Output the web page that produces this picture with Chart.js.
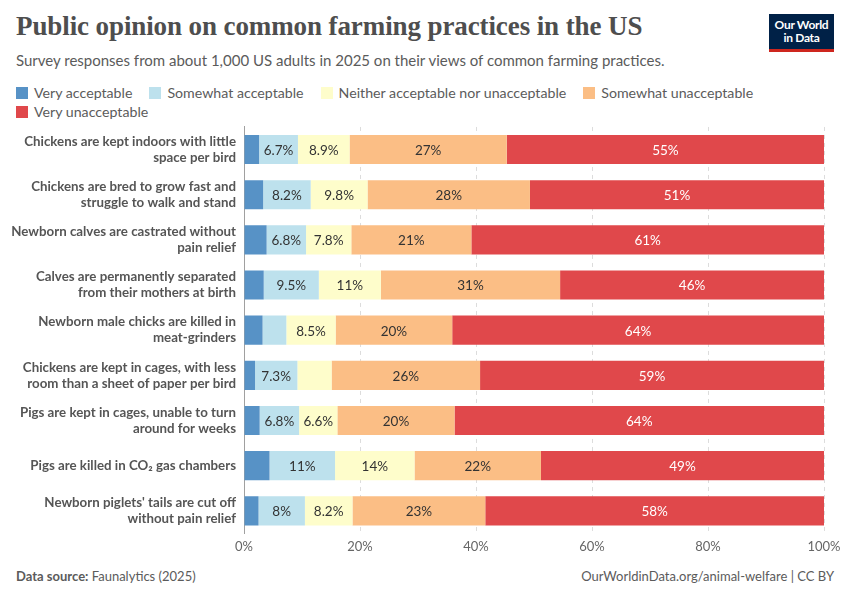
<!DOCTYPE html>
<html>
<head>
<meta charset="utf-8">
<script src="https://cdn.jsdelivr.net/npm/chart.js@4.4.1/dist/chart.umd.min.js"></script>
<style>
  body { margin: 0; background: #fff; font-family: Lato, "Noto Sans", sans-serif; }
  #wrap { position: relative; width: 850px; height: 600px; overflow: hidden; }
  #title { position: absolute; left: 16px; top: 11px; margin: 0; font-family: "Liberation Serif", "DejaVu Serif", serif;
           font-weight: bold; font-size: 27px; color: #4e4e4e; letter-spacing: -0.1px; }
  #subtitle { position: absolute; left: 16px; top: 51px; font-size: 15px; color: #5b5b5b; }
  #legend { position: absolute; left: 16px; top: 83px; width: 770px; display: flex; flex-wrap: wrap;
            font-size: 14.2px; color: #5b5b5b; line-height: 19px; }
  #legend span.item { display: inline-flex; align-items: center; margin-right: 17px; }
  #legend span.sw { display: inline-block; width: 12px; height: 12px; margin-right: 6px; }
  #logo { position: absolute; left: 769px; top: 14px; width: 65px; height: 38px; background: #002147;
          color: #fff; font-size: 12px; line-height: 13px; text-align: center; font-weight: bold;
          border-bottom: 3px solid #ce261e; box-sizing: border-box; padding-top: 4px; letter-spacing: -0.3px; }
  #box { position: absolute; left: 0; top: 111px; width: 850px; height: 450px; }
  #source { position: absolute; left: 16px; top: 568px; font-size: 13px; color: #5b5b5b; }
  #credit { position: absolute; right: 16px; top: 568px; font-size: 13px; color: #5b5b5b; }
</style>
</head>
<body>
<div id="wrap">
  <h1 id="title">Public opinion on common farming practices in the US</h1>
  <div id="subtitle">Survey responses from about 1,000 US adults in 2025 on their views of common farming practices.</div>
  <div id="logo">Our World<br>in Data</div>
  <div id="legend"></div>
  <div id="box"><canvas id="opinionChart"></canvas></div>
  <div id="source"><b>Data source:</b> Faunalytics (2025)</div>
  <div id="credit">OurWorldinData.org/animal-welfare | CC BY</div>
</div>
<script>
// categories (multi-line labels)
const practices = [
    ['Chickens are kept indoors with little', 'space per bird'],
    ['Chickens are bred to grow fast and', 'struggle to walk and stand'],
    ['Newborn calves are castrated without', 'pain relief'],
    ['Calves are permanently separated', 'from their mothers at birth'],
    ['Newborn male chicks are killed in', 'meat-grinders'],
    ['Chickens are kept in cages, with less', 'room than a sheet of paper per bird'],
    ['Pigs are kept in cages, unable to turn', 'around for weeks'],
    'Pigs are killed in CO\u2082 gas chambers',
    ["Newborn piglets' tails are cut off", 'without pain relief']
];

// answer shares in %
const veryAcceptable       = [2.6, 3.3, 3.9, 3.4, 3.2, 1.9, 2.7, 4.4, 2.5];
const somewhatAcceptable   = [6.7, 8.2, 6.8, 9.5, 4.1, 7.3, 6.8, 11.3, 8.0];
const neither              = [8.9, 9.8, 7.8, 10.7, 8.5, 5.9, 6.6, 13.7, 8.2];
const somewhatUnacceptable = [27.1, 28.0, 20.7, 30.9, 20.1, 25.6, 20.2, 21.8, 22.9];
const veryUnacceptable     = [54.7, 50.7, 60.8, 45.5, 64.1, 59.3, 63.7, 48.8, 58.4];

const seriesNames = ['Very acceptable', 'Somewhat acceptable', 'Neither acceptable nor unacceptable',
    'Somewhat unacceptable', 'Very unacceptable'];
const seriesColors = ['#5792c6', '#bde1ed', '#fefdcb', '#fbbe85', '#e0484b'];
const xTicks = [0, 20, 40, 60, 80, 100];

const seriesValues = [veryAcceptable, somewhatAcceptable, neither, somewhatUnacceptable, veryUnacceptable];

// html legend
const legendEl = document.getElementById('legend');
seriesNames.forEach((name, i) => {
    const item = document.createElement('span');
    item.className = 'item';
    item.innerHTML = '<span class="sw" style="background:' + seriesColors[i] + '"></span>' + name;
    legendEl.appendChild(item);
});

function fmt(v) {
    if (v >= 10) return Math.round(v) + '%';
    return (Math.round(v * 10) / 10) + '%';
}

// draw the value labels inside the segments
const segmentLabels = {
    id: 'segmentLabels',
    afterDatasetsDraw(chart) {
        const ctx = chart.ctx;
        ctx.save();
        ctx.font = '13.5px Lato';
        ctx.textAlign = 'center';
        ctx.textBaseline = 'middle';
        chart.data.datasets.forEach((ds, di) => {
            const meta = chart.getDatasetMeta(di);
            meta.data.forEach((bar, i) => {
                const v = ds.data[i];
                if (v < 6) return;
                ctx.fillStyle = di === 4 ? '#ffffff' : '#333333';
                ctx.fillText(fmt(v), (bar.x + bar.base) / 2, bar.y + 1);
            });
        });
        ctx.restore();
    }
};

window.onload = function() {
    const ctx = document.getElementById('opinionChart').getContext('2d');
    new Chart(ctx, {
        type: 'bar',
        data: {
            labels: practices,
            datasets: seriesNames.map((name, i) => ({
                label: name,
                data: seriesValues[i],
                backgroundColor: seriesColors[i],
                borderWidth: 0,
                barPercentage: 0.645,
                categoryPercentage: 1
            }))
        },
        options: {
            indexAxis: 'y',
            responsive: true,
            maintainAspectRatio: false,
            animation: false,
            layout: { padding: { left: 0, right: 26, top: 2, bottom: 0 } },
            plugins: {
                legend: { display: false },
                tooltip: { enabled: false }
            },
            scales: {
                x: {
                    stacked: true,
                    min: 0,
                    max: 100,
                    afterBuildTicks: scale => { scale.ticks = xTicks.map(v => ({ value: v })); },
                    grid: { color: '#dcdcdc', drawTicks: false },
                    border: { display: false, dash: [4, 4] },
                    ticks: {
                        padding: 6,
                        color: '#666',
                        font: { family: 'Lato', size: 13 },
                        callback: v => v + '%'
                    }
                },
                y: {
                    stacked: true,
                    afterFit: scale => { scale.width = 244; },
                    grid: { display: false },
                    border: { display: true, color: '#a0a0a0', width: 1 },
                    ticks: {
                        padding: 0,
                        color: '#555',
                        font: { family: 'Lato', size: 13.3, weight: 'bold', lineHeight: 1.2 }
                    }
                }
            }
        },
        plugins: [segmentLabels]
    });
};
</script>
</body>
</html>
